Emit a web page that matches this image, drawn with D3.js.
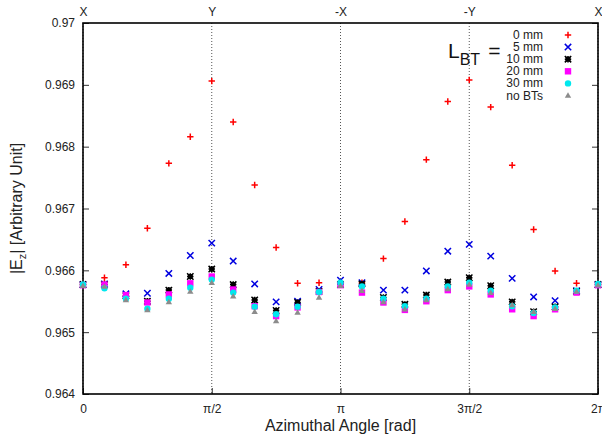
<!DOCTYPE html>
<html>
<head>
<meta charset="utf-8">
<script src="https://cdn.jsdelivr.net/npm/d3@7"></script>
<style>
  body { margin: 0; background: #fff; }
  svg { display: block; font-family: "Liberation Sans", Arial, sans-serif; }
</style>
</head>
<body>
<svg id="chart" width="602" height="436"></svg>
<script>
// 25 samples, step pi/12
var steps = d3.range(25);
var xTickVals = [0, Math.PI / 2, Math.PI, 3 * Math.PI / 2, 2 * Math.PI];
var xTickLabels = ["0", "\u03c0/2", "\u03c0", "3\u03c0/2", "2\u03c0"];
var topLabels = ["X", "Y", "-X", "-Y", "X"];
var yTicks = [0.964, 0.965, 0.966, 0.967, 0.968, 0.969, 0.97];

var bt0  = [0.96577, 0.96588, 0.96609, 0.96668, 0.96773, 0.96816, 0.96906, 0.96840, 0.96738, 0.96637, 0.96579, 0.96580, 0.96578,
            0.96580, 0.96619, 0.96679, 0.96779, 0.96873, 0.96908, 0.96864, 0.96770, 0.96666, 0.96599, 0.96579, 0.96577];
var bt5  = [0.96577, 0.96578, 0.96562, 0.96563, 0.96595, 0.96624, 0.96644, 0.96615, 0.96578, 0.96549, 0.96550, 0.96569, 0.96584,
            0.96580, 0.96568, 0.96568, 0.96599, 0.96631, 0.96642, 0.96623, 0.96587, 0.96557, 0.96551, 0.96567, 0.96577];
var bt10 = [0.96577, 0.96577, 0.96559, 0.96550, 0.96568, 0.96590, 0.96602, 0.96577, 0.96552, 0.96535, 0.96548, 0.96566, 0.96577,
            0.96578, 0.96556, 0.96545, 0.96560, 0.96581, 0.96588, 0.96575, 0.96549, 0.96533, 0.96541, 0.96566, 0.96577];
var bt20 = [0.96576, 0.96577, 0.96560, 0.96548, 0.96561, 0.96579, 0.96590, 0.96569, 0.96542, 0.96526, 0.96540, 0.96565, 0.96576,
            0.96564, 0.96548, 0.96536, 0.96550, 0.96568, 0.96574, 0.96561, 0.96537, 0.96526, 0.96537, 0.96564, 0.96576];
var bt30 = [0.96577, 0.96571, 0.96554, 0.96538, 0.96554, 0.96572, 0.96585, 0.96564, 0.96541, 0.96529, 0.96541, 0.96565, 0.96580,
            0.96574, 0.96554, 0.96542, 0.96554, 0.96574, 0.96580, 0.96567, 0.96542, 0.96531, 0.96540, 0.96567, 0.96578];
var noBT = [0.96575, 0.96574, 0.96552, 0.96536, 0.96549, 0.96566, 0.96580, 0.96558, 0.96533, 0.96518, 0.96532, 0.96556, 0.96575,
            0.96567, 0.96549, 0.96537, 0.96552, 0.96570, 0.96577, 0.96564, 0.96544, 0.96533, 0.96538, 0.96566, 0.96576];
var legendLabels = ["0 mm", "5 mm", "10 mm", "20 mm", "30 mm", "no BTs"];

var svg = d3.select("#chart");
var pLeft = 83, pRight = 598, pTop = 23, pBottom = 394;

var x = d3.scaleLinear().domain([0, 2 * Math.PI]).range([pLeft, pRight]);
var y = d3.scaleLinear().domain([0.964, 0.97]).range([pBottom, pTop]);

// grid lines (dotted, vertical)
svg.append("g").selectAll("line").data(xTickVals).enter().append("line")
    .attr("x1", function(d) { return x(d); }).attr("x2", function(d) { return x(d); })
    .attr("y1", pTop).attr("y2", pBottom)
    .style("stroke", "#555").style("stroke-width", 1)
    .style("stroke-dasharray", "1,2");

// axes, ticks pointing inward
var axL = svg.append("g").attr("transform", "translate(" + pLeft + ",0)")
    .call(d3.axisLeft(y).tickValues(yTicks).tickSize(-6).tickPadding(8)
        .tickFormat(function(d) { return String(+d.toFixed(3)); }));
var axR = svg.append("g").attr("transform", "translate(" + pRight + ",0)")
    .call(d3.axisRight(y).tickValues(yTicks).tickSize(-6).tickFormat(""));
var axB = svg.append("g").attr("transform", "translate(0," + pBottom + ")")
    .call(d3.axisBottom(x).tickValues(xTickVals).tickSize(-6).tickPadding(10)
        .tickFormat(function(d, i) { return xTickLabels[i]; }));
var axT = svg.append("g").attr("transform", "translate(0," + pTop + ")")
    .call(d3.axisTop(x).tickValues(xTickVals).tickSize(0).tickPadding(7)
        .tickFormat(function(d, i) { return topLabels[i]; }));

[axL, axR, axB, axT].forEach(function(a) {
    a.select(".domain").remove();
    a.selectAll("text").style("font-size", "12px").style("fill", "#222")
        .style("font-family", "'Liberation Sans', Arial, sans-serif");
    a.selectAll(".tick line").style("stroke", "#333");
});

// frame
svg.append("rect").attr("x", pLeft).attr("y", pTop)
    .attr("width", pRight - pLeft).attr("height", pBottom - pTop)
    .style("fill", "none").style("stroke", "#000").style("stroke-width", 1.6);

// markers
var s = 3.2;
function drawPlus(g, cx, cy, col) {
    g.append("path").attr("d", "M" + (cx - s) + "," + cy + "H" + (cx + s) + "M" + cx + "," + (cy - s) + "V" + (cy + s))
        .style("stroke", col).style("stroke-width", 1.5).style("fill", "none");
}
function drawCross(g, cx, cy, col) {
    g.append("path").attr("d", "M" + (cx - s) + "," + (cy - s) + "L" + (cx + s) + "," + (cy + s) +
        "M" + (cx - s) + "," + (cy + s) + "L" + (cx + s) + "," + (cy - s))
        .style("stroke", col).style("stroke-width", 1.5).style("fill", "none");
}
function drawStar(g, cx, cy, col) {
    drawPlus(g, cx, cy, col);
    drawCross(g, cx, cy, col);
    g.append("rect").attr("x", cx - 2.5).attr("y", cy - 2.5).attr("width", 5).attr("height", 5).style("fill", col);
}
function drawSquare(g, cx, cy, col) {
    g.append("rect").attr("x", cx - 3.2).attr("y", cy - 3.2).attr("width", 6.4).attr("height", 6.4).style("fill", col);
}
function drawCircle(g, cx, cy, col) {
    g.append("circle").attr("cx", cx).attr("cy", cy).attr("r", 3.2).style("fill", col);
}
function drawTri(g, cx, cy, col) {
    g.append("path").attr("d", "M" + cx + "," + (cy - 3.2) + "L" + (cx + 3.2) + "," + (cy + 2.3) + "L" + (cx - 3.2) + "," + (cy + 2.3) + "Z")
        .style("fill", col);
}

var series = [
    { vals: bt0, col: "#ff0000", draw: drawPlus },
    { vals: bt5, col: "#0000e0", draw: drawCross },
    { vals: bt10, col: "#000000", draw: drawStar },
    { vals: bt20, col: "#ff00ff", draw: drawSquare },
    { vals: bt30, col: "#00e8ee", draw: drawCircle },
    { vals: noBT, col: "#8c8c8c", draw: drawTri }
];

var gPts = svg.append("g");
series.forEach(function(se) {
    steps.forEach(function(i) {
        se.draw(gPts, x(i * Math.PI / 12), y(se.vals[i]), se.col);
    });
});

// legend
var gLeg = svg.append("g");
series.forEach(function(se, i) {
    var ly = 35 + i * 12.1;
    gLeg.append("text").attr("x", 543).attr("y", ly + 4).attr("text-anchor", "end")
        .style("font-size", "12px").style("fill", "#222").text(legendLabels[i]);
    se.draw(gLeg, 568, ly, se.col);
});
var lbt = gLeg.append("text").attr("x", 448).attr("y", 58).style("font-size", "21px").style("fill", "#111");
lbt.append("tspan").text("L");
lbt.append("tspan").attr("dy", 7).style("font-size", "16px").text("BT");
lbt.append("tspan").attr("dy", -7).attr("dx", 8).text("=");

// axis titles
svg.append("text").attr("x", (pLeft + pRight) / 2).attr("y", 431).attr("text-anchor", "middle")
    .style("font-size", "16px").style("fill", "#222").text("Azimuthal Angle [rad]");
var yt = svg.append("text").attr("transform", "translate(22," + ((pTop + pBottom) / 2) + ") rotate(-90)")
    .attr("text-anchor", "middle").style("font-size", "16px").style("fill", "#222");
yt.append("tspan").text("|E");
yt.append("tspan").attr("dy", 4).style("font-size", "11px").text("z");
yt.append("tspan").attr("dy", -4).text("| [Arbitrary Unit]");
</script>
</body>
</html>
